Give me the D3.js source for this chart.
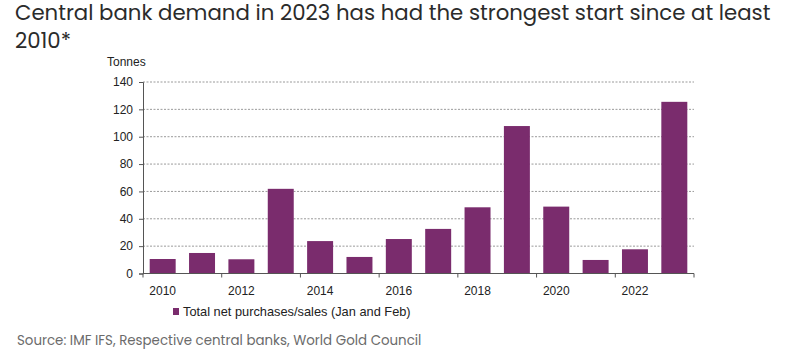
<!DOCTYPE html>
<html><head><meta charset="utf-8">
<script src="https://cdn.jsdelivr.net/npm/d3@7"></script>
<style>body{margin:0;background:#fff}</style>
</head><body>
<svg id="c" width="800" height="356"></svg>
<script>
const years = [2010,2011,2012,2013,2014,2015,2016,2017,2018,2019,2020,2021,2022,2023];
const values = [10.6,15.0,10.4,61.9,23.7,12.1,25.2,32.6,48.4,107.8,48.9,9.9,17.7,125.5];
const yTicks = [0,20,40,60,80,100,120,140];
const xLabelYears = [2010,2012,2014,2016,2018,2020,2022];
const titleLines = ["Central bank demand in 2023 has had the strongest start since at least","2010*"];
const unitLabel = "Tonnes";
const legendLabel = "Total net purchases/sales (Jan and Feb)";
const sourceText = "Source: IMF IFS, Respective central banks, World Gold Council";

const svg = d3.select("#c");
const barColor = "#7a2c6d";
const m = {left:143, right:694, top:82, bottom:273.5};

const x = d3.scaleBand().domain(years).range([m.left, m.right]).paddingInner(0.34).paddingOuter(0.17);
const y = d3.scaleLinear().domain([0,140]).range([m.bottom, m.top]);

// title
const titleFont = "Poppins, 'Open Sans', sans-serif";
function fitText(sel, target){
  const w = sel.node().getComputedTextLength();
  const fs = parseFloat(sel.attr("font-size"));
  sel.attr("font-size", fs*target/w);
}
const t1 = svg.append("text").attr("x",15).attr("y",20).attr("font-family",titleFont).attr("font-size",20).attr("fill","#2b2b2b").text(titleLines[0]);
fitText(t1, 756);
const t2 = svg.append("text").attr("x",15).attr("y",48).attr("font-family",titleFont).attr("font-size",t1.attr("font-size")).attr("fill","#2b2b2b").text(titleLines[1]);

// grid
svg.append("g").selectAll("line").data(yTicks.filter(d=>d>0)).join("line")
  .attr("x1",m.left).attr("x2",m.right).attr("y1",d=>y(d)).attr("y2",d=>y(d))
  .attr("stroke","#9a9a9a").attr("stroke-width",1).attr("stroke-dasharray","2,1.5");

// bars
svg.append("g").selectAll("rect").data(years).join("rect")
  .attr("x",(d)=>x(d)).attr("width",x.bandwidth())
  .attr("y",(d,i)=>y(values[i])).attr("height",(d,i)=>y(0)-y(values[i]))
  .attr("fill",barColor);

// y axis
const yAxis = d3.axisLeft(y).tickValues(yTicks).tickSize(4).tickPadding(6);
const gy = svg.append("g").attr("transform",`translate(${m.left},0)`).call(yAxis);
gy.select(".domain").attr("stroke","#555");
gy.selectAll(".tick line").attr("stroke","#555");
gy.selectAll("text").attr("font-family","'Liberation Sans', Arial, sans-serif").attr("font-size",12).attr("fill","#222");

// x axis
const step = x.step();
const boundaries = xLabelYears.map(yr => x(yr) - x.paddingInner()*step/2 ).concat([m.right]);
const gx = svg.append("g");
gx.append("line").attr("x1",m.left).attr("x2",m.right).attr("y1",y(0)).attr("y2",y(0)).attr("stroke","#555");
gx.selectAll("line.tk").data(boundaries).join("line").attr("class","tk")
  .attr("x1",d=>d).attr("x2",d=>d).attr("y1",y(0)).attr("y2",y(0)+4).attr("stroke","#555");
gx.selectAll("text").data(xLabelYears).join("text")
  .attr("x",d=>x(d)+x.bandwidth()/2).attr("y",295).attr("text-anchor","middle")
  .attr("font-family","'Liberation Sans', Arial, sans-serif").attr("font-size",12).attr("fill","#222").text(d=>d);

// unit label
svg.append("text").attr("x",107).attr("y",66).attr("font-family","'Liberation Sans', Arial, sans-serif").attr("font-size",12).attr("fill","#222").text(unitLabel);

// legend
svg.append("rect").attr("x",173).attr("y",308).attr("width",6).attr("height",7).attr("fill",barColor);
const lt = svg.append("text").attr("x",183).attr("y",315.5).attr("font-family","'Liberation Sans', Arial, sans-serif").attr("font-size",12).attr("fill","#222").text(legendLabel);
fitText(lt, 228);

// source
const st = svg.append("text").attr("x",17).attr("y",345).attr("font-family",titleFont).attr("font-size",13).attr("fill","#6b6b6b").text(sourceText);
fitText(st, 405);
</script>
</body></html>
